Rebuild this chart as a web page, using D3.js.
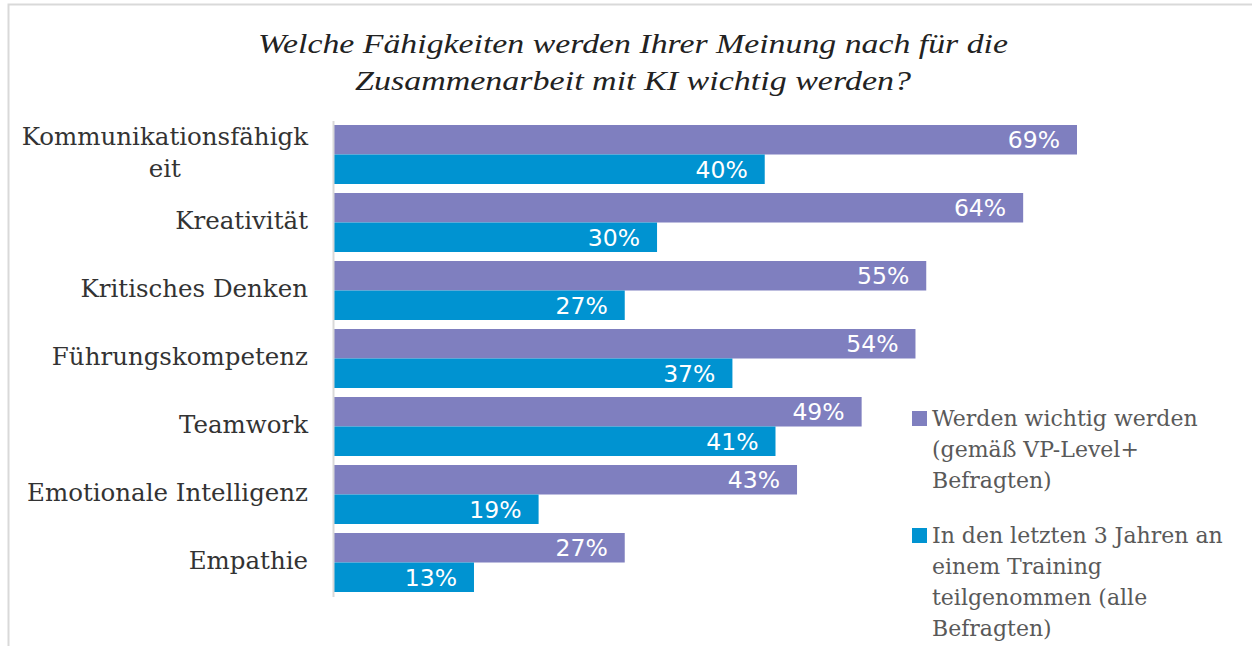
<!DOCTYPE html>
<style>
body{
  margin: 0;
  background: #ffffff;
}
svg { display: block; }
</style>
<script src="https://d3js.org/d3.v7.min.js"></script>
<svg width="1252" height="646"></svg>

<script>

var categories = ["Kommunikationsfähigkeit", "Kreativität", "Kritisches Denken",
                  "Führungskompetenz", "Teamwork", "Emotionale Intelligenz", "Empathie"];
var seriesNames = ["Werden wichtig werden (gemäß VP-Level+ Befragten)",
                   "In den letzten 3 Jahren an einem Training teilgenommen (alle Befragten)"];
var important = [69, 64, 55, 54, 49, 43, 27];
var trained = [40, 30, 27, 37, 41, 19, 13];
var titleLines = ["Welche Fähigkeiten werden Ihrer Meinung nach für die",
                  "Zusammenarbeit mit KI wichtig werden?"];
var legendLines = [["Werden wichtig werden", "(gemäß VP-Level+", "Befragten)"],
                   ["In den letzten 3 Jahren an", "einem Training", "teilgenommen (alle", "Befragten)"]];

var colors = ["#7f7fbf", "#0093d1"];
var labelFont = "'DejaVu Serif', serif";

var svg = d3.select("svg"),
    width = +svg.attr("width"),
    height = +svg.attr("height");

// chart frame
svg.append("path")
   .attr("d", "M8.5," + height + "V4.5H" + width)
   .attr("fill", "none")
   .attr("stroke", "#d9d9d9")
   .attr("stroke-width", 2);

// title
svg.append("g").selectAll("text")
   .data(titleLines)
   .enter().append("text")
   .attr("x", 633)
   .attr("y", function(d, i) { return 53 + i * 37; })
   .attr("text-anchor", "middle")
   .attr("font-family", "'Liberation Serif', serif")
   .attr("font-style", "italic")
   .attr("font-size", 27)
   .attr("fill", "#222")
   .attr("textLength", function(d, i) { return i == 0 ? 750 : 556; })
   .attr("lengthAdjust", "spacingAndGlyphs")
   .text(function(d) { return d; });

var x = d3.scaleLinear().domain([0, 69]).range([334, 1077]);

var y = d3.scaleBand()
    .domain(categories)
    .range([125, 125 + 68 * categories.length - 9])
    .paddingInner(9 / 68)
    .paddingOuter(0);

var y1 = d3.scaleBand().domain([0, 1]).range([0, y.bandwidth()]);

var rows = svg.append("g").selectAll("g")
    .data(categories)
    .enter().append("g")
    .attr("transform", function(d) { return "translate(0," + y(d) + ")"; });

var bars = rows.selectAll("g.bar")
    .data(function(d, i) { return [important[i], trained[i]]; })
    .enter().append("g").attr("class", "bar");

bars.append("rect")
    .attr("x", x(0))
    .attr("y", function(d, j) { return y1(j); })
    .attr("width", function(d) { return x(d) - x(0); })
    .attr("height", y1.bandwidth())
    .attr("fill", function(d, j) { return colors[j]; });

bars.append("text")
    .attr("x", function(d) { return x(d) - 17; })
    .attr("y", function(d, j) { return y1(j) + y1.bandwidth() / 2; })
    .attr("dy", "0.36em")
    .attr("text-anchor", "end")
    .attr("font-family", "'DejaVu Sans', sans-serif")
    .attr("font-size", 23.5)
    .attr("fill", "#fff")
    .text(function(d) { return d + "%"; });

// axis line
svg.append("line")
   .attr("x1", 333.5).attr("x2", 333.5)
   .attr("y1", 121).attr("y2", 597)
   .attr("stroke", "#d9d9d9")
   .attr("stroke-width", 2);

// category labels (only single over-long words get broken, like the original)
function wrap(s) {
  return (s.indexOf(" ") < 0 && s.length > 20) ? [s.slice(0, 20), s.slice(20)] : [s];
}

var lab = svg.append("g").selectAll("text")
    .data(categories)
    .enter().append("text")
    .attr("font-family", labelFont)
    .attr("font-size", 24.5)
    .attr("fill", "#333")
    .attr("text-anchor", "end")
    .attr("transform", function(d) {
      return "translate(308," + (y(d) + y.bandwidth() / 2 - 2) + ")";
    });

lab.each(function(d) {
  var lines = wrap(d), t = d3.select(this);
  var w = lines.length;
  lines.forEach(function(l, k) {
    t.append("tspan")
     .attr("x", 0)
     .attr("y", (k - (w - 1) / 2) * 32)
     .attr("dy", "0.36em")
     .text(l);
  });
});

// centre the second line of wrapped labels under the first
lab.each(function(d) {
  var spans = d3.select(this).selectAll("tspan").nodes();
  if (spans.length > 1) {
    var w0 = spans[0].getComputedTextLength();
    spans.forEach(function(s) {
      s.setAttribute("text-anchor", "middle");
      s.setAttribute("x", -w0 / 2);
    });
  }
});

// legend
var legend = svg.append("g").selectAll("g")
    .data(seriesNames)
    .enter().append("g")
    .attr("transform", function(d, i) { return "translate(912," + (i == 0 ? 418 : 535) + ")"; });

legend.append("rect")
    .attr("x", 0).attr("y", -7)
    .attr("width", 15).attr("height", 15)
    .attr("fill", function(d, i) { return colors[i]; });

legend.append("text")
    .attr("font-family", labelFont)
    .attr("font-size", 22)
    .attr("fill", "#595959")
    .each(function(d, i) {
      var t = d3.select(this);
      legendLines[i].forEach(function(l, k) {
        t.append("tspan").attr("x", 20).attr("y", k * 31).attr("dy", "0.36em").text(l);
      });
    });
</script>
